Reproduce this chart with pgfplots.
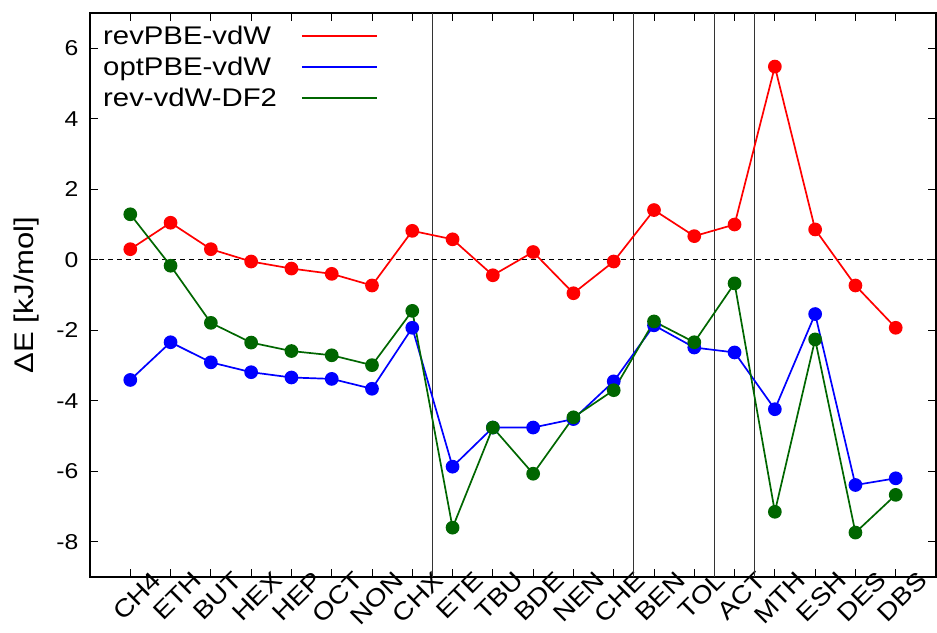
\documentclass[border=0pt]{standalone}
\usepackage{fontspec}
\setmainfont{Liberation Sans}[FakeStretch=1.15]
\usepackage{pgfplots}
\pgfplotsset{compat=1.18}

\definecolor{cred}{rgb}{1,0,0}
\definecolor{cblue}{rgb}{0,0,1}
\definecolor{cgreen}{rgb}{0,0.4,0}

\begin{document}
\begin{tikzpicture}
\begin{axis}[
  at={(0,0)}, anchor=south west,
  scale only axis,
  width=846pt, height=564pt,
  xmin=-1, xmax=20,
  ymin=-9, ymax=7,
  xtick={0,...,19},
  xticklabels={CH4,ETH,BUT,HEX,HEP,OCT,NON,CHX,ETE,TBU,BDE,NEN,CHE,BEN,TOL,ACT,MTH,ESH,DES,DBS},
  ytick={-8,-6,...,6},
  tick align=inside,
  xtick pos=both, ytick pos=both,
  major tick length=8pt,
  axis line style={line width=1.2pt},
  tick style={line width=1pt, black},
  font=\fontsize{21.5}{25}\selectfont,
  /pgf/number format/assume math mode=true,
  x tick label style={rotate=45, anchor=north east, xshift=23pt, yshift=-6pt,
    font=\fontsize{24.5}{28}\selectfont},
  y tick label style={xshift=-8pt},
  ylabel={ΔE [kJ/mol]},
  every axis y label/.style={at={(rel axis cs:0,0.5)}, xshift=-63pt, rotate=90, anchor=center,
    font=\fontsize{27}{30}\selectfont},
  legend style={draw=none, fill=none, at={(rel axis cs:0,1)}, anchor=north west,
    xshift=8pt, yshift=-9pt, row sep=7pt, font=\fontsize{25.5}{30}\selectfont},
  legend cell align=left,
  legend plot pos=right,
  legend image code/.code={\path (0pt,0pt); \draw[#1, line width=1.8pt] (22pt,0pt) -- (97pt,0pt);},
  every axis plot/.append style={line width=1.7pt, mark=*, mark size=6pt},
]
% separators between the molecule groups
\draw[line width=1.1pt, black!80] (axis cs:7.5,-9) -- (axis cs:7.5,7);
\draw[line width=1.1pt, black!80] (axis cs:12.5,-9) -- (axis cs:12.5,7);
\draw[line width=1.1pt, black!80] (axis cs:14.5,-9) -- (axis cs:14.5,7);
\draw[line width=1.1pt, black!80] (axis cs:15.5,-9) -- (axis cs:15.5,7);
% zero reference
\draw[line width=1pt, dash pattern=on 5pt off 4pt] (axis cs:-1,0) -- (axis cs:20,0);

\addplot[color=cred, mark options={fill=cred}] coordinates {
 (0,0.30) (1,1.05) (2,0.30) (3,-0.05) (4,-0.25) (5,-0.40) (6,-0.73) (7,0.82)
 (8,0.58) (9,-0.44) (10,0.22) (11,-0.95) (12,-0.05) (13,1.41) (14,0.67)
 (15,1.00) (16,5.48) (17,0.86) (18,-0.73) (19,-1.93)};
\addlegendentry{revPBE-vdW}

\addplot[color=cblue, mark options={fill=cblue}] coordinates {
 (0,-3.41) (1,-2.34) (2,-2.91) (3,-3.19) (4,-3.34) (5,-3.38) (6,-3.66) (7,-1.93)
 (8,-5.87) (9,-4.76) (10,-4.76) (11,-4.52) (12,-3.45) (13,-1.86) (14,-2.49)
 (15,-2.63) (16,-4.24) (17,-1.54) (18,-6.39) (19,-6.20)};
\addlegendentry{optPBE-vdW}

\addplot[color=cgreen, mark options={fill=cgreen}] coordinates {
 (0,1.29) (1,-0.17) (2,-1.79) (3,-2.35) (4,-2.59) (5,-2.71) (6,-2.99) (7,-1.45)
 (8,-7.60) (9,-4.76) (10,-6.07) (11,-4.47) (12,-3.70) (13,-1.75) (14,-2.34)
 (15,-0.67) (16,-7.15) (17,-2.26) (18,-7.74) (19,-6.67)};
\addlegendentry{rev-vdW-DF2}
\end{axis}
% page frame with the margins around the plot box
\pgfresetboundingbox
\path[use as bounding box] (-90pt,-55pt) rectangle (847pt,577pt);
\end{tikzpicture}
\end{document}
